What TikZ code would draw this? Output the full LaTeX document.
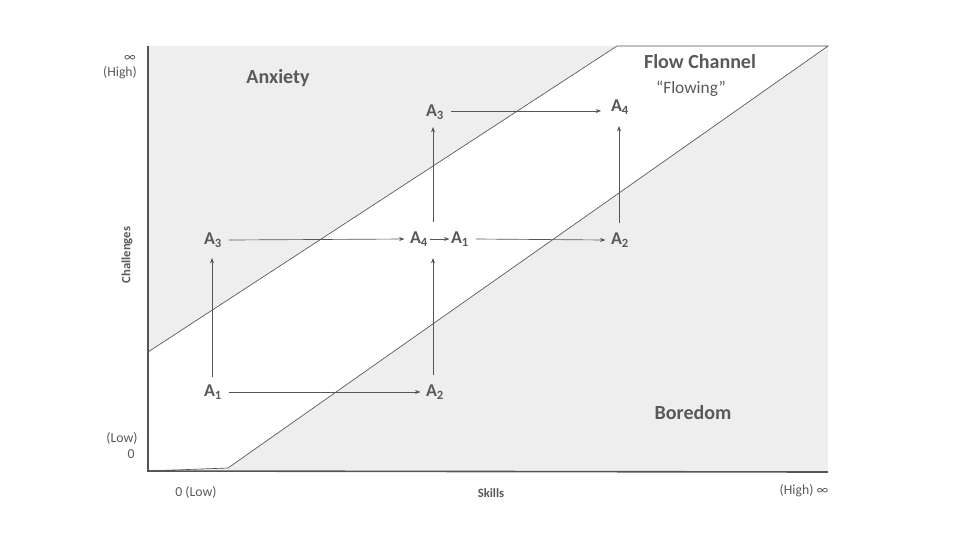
\documentclass[tikz,border=0pt]{standalone}
\usepackage{fontspec}
\setmainfont{Carlito}
\usetikzlibrary{arrows.meta}
\definecolor{txt}{HTML}{595959}
\definecolor{bg}{HTML}{EEEEEE}
\definecolor{ln}{HTML}{555555}
\tikzset{
  lab/.style={text=txt, font=\fontsize{15}{16}\selectfont\bfseries, inner sep=0pt},
  anode/.style={text=txt, font=\fontsize{13.5}{14}\selectfont\bfseries, inner sep=1pt},
  small/.style={text=txt, font=\fontsize{10.3}{11}\selectfont, inner sep=0pt},
  axl/.style={text=txt, font=\fontsize{9.5}{10}\selectfont\bfseries, inner sep=0pt},
  arr/.style={draw=ln, line width=0.5pt, -{Stealth[length=4pt,width=3pt]}},
  thin/.style={draw=ln, line width=0.5pt}
}
\newcommand{\Asub}[1]{A\textsubscript{#1}}
\begin{document}
\begin{tikzpicture}[x=0.75pt,y=-0.75pt]
\useasboundingbox (0,0) rectangle (960,540);
% background region
\fill[bg] (148,46) rectangle (828,472);
\fill[white] (148,352) -- (617,46) -- (828,46) -- (228,468) -- (148,470) -- cycle;
% channel boundaries
\coordinate (u0) at (148,352);
\coordinate (u1) at (617,46);
\coordinate (l0) at (228,468);
\coordinate (l1) at (828,46);
\coordinate (o) at (148,471);
\coordinate (ytop) at (148,46);
\coordinate (xend) at (828,472);
\draw[thin] (u0) -- (u1) -- (l1) -- (l0) -- (o);
\draw[draw=ln, line width=1.2pt] (ytop) -- (o) -- (xend);
% labels
\node[small] (inf1) at (130,58) {∞};
\node[small] (high1) at (120,73) {(High)};
\node[small] (low1) at (122,438) {(Low)};
\node[small] (zero1) at (131,454) {0};
\node[small] (zero2) at (196,492) {0 (Low)};
\node[small] (high2) at (804,491) {(High) ∞};
\node[axl] (skills) at (491,493) {Skills};
\node[axl, rotate=90] (chal) at (127,255) {Challenges};
\node[lab] (anx) at (278,78) {Anxiety};
\node[lab] (flow) at (700,62) {Flow Channel};
\node[small, font=\fontsize{13}{14}\selectfont] (flowing) at (691,89) {“Flowing”};
\node[lab] (bore) at (693,413) {Boredom};
% A nodes
\node[anode] (a1) at (213,392) {\Asub{1}};
\node[anode] (a2) at (435,392) {\Asub{2}};
\node[anode] (a3) at (213,240) {\Asub{3}};
\node[anode] (a4) at (419,239) {\Asub{4}};
\node[anode] (b1) at (460,239) {\Asub{1}};
\node[anode] (b2) at (620,240) {\Asub{2}};
\node[anode] (b3) at (435,112) {\Asub{3}};
\node[anode] (b4) at (620,107) {\Asub{4}};
% arrows
\draw[arr] (a1.north -| 212,0) ++(0,-6) -- (212,258);
\draw[arr] ([xshift=4pt]a1.east) -- ([xshift=-3pt]a2.west);
\draw[arr] ([xshift=4pt]a3.east) -- ([xshift=-3pt]a4.west);
\draw[arr] (433,375) -- (433,258);
\draw[arr] (a4.east) -- (b1.west);
\draw[arr] ([xshift=4pt]b1.east) -- ([xshift=-3pt]b2.west);
\draw[arr] (433,222) -- (433,127);
\draw[arr] ([xshift=4pt]b3.east |- 0,111) -- (601,111);
\draw[arr] (619,223) -- (619,126);
\end{tikzpicture}
\end{document}
